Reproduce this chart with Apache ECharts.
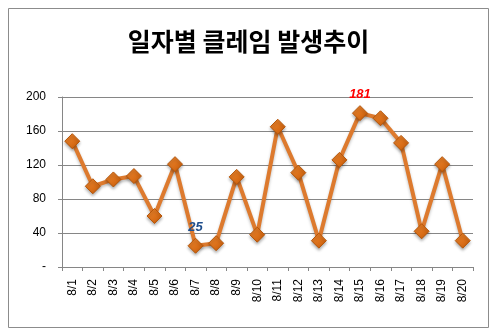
<!DOCTYPE html>
<html>
<head>
<meta charset="utf-8">
<script src="https://cdn.jsdelivr.net/npm/echarts@6/dist/echarts.min.js"></script>
<style>
  html, body { margin: 0; padding: 0; background: #fff; }
  #chart { width: 497px; height: 334px; }
</style>
</head>
<body>
<div id="chart"></div>
<script>
// Daily claim counts, August 1-20
const days = ['8/1','8/2','8/3','8/4','8/5','8/6','8/7','8/8','8/9','8/10',
              '8/11','8/12','8/13','8/14','8/15','8/16','8/17','8/18','8/19','8/20'];
const claims = [148, 95, 103, 107, 60, 121, 25, 28, 106, 38,
                165, 111, 31, 126, 181, 175, 146, 42, 121, 31];
const yTicks = [0, 40, 80, 120, 160, 200];

// highlighted labels: minimum in blue, maximum in red
const minIdx = claims.indexOf(Math.min(...claims));
const maxIdx = claims.indexOf(Math.max(...claims));

const seriesData = claims.map((v, i) => {
  const item = { value: v };
  if (i === minIdx || i === maxIdx) {
    item.label = {
      show: true,
      position: 'top',
      distance: 4,
      fontFamily: 'Liberation Sans, Arial, sans-serif',
      fontSize: 13,
      fontWeight: 'bold',
      fontStyle: 'italic',
      color: i === maxIdx ? '#ff0000' : '#1f4e8c'
    };
  }
  return item;
});

const chart = echarts.init(document.getElementById('chart'));
chart.setOption({
  animation: false,
  backgroundColor: '#ffffff',
  title: {
    text: '일자별 클레임 발생추이',
    left: 'center',
    top: 24,
    textStyle: {
      fontFamily: 'Noto Sans CJK KR, sans-serif',
      fontSize: 25,
      fontWeight: 'bold',
      color: '#000'
    }
  },
  graphic: [{
    type: 'rect',
    shape: { x: 8.5, y: 8.5, width: 480, height: 319 },
    style: { fill: 'none', stroke: '#8c8c8c', lineWidth: 1 },
    silent: true
  }],
  grid: { left: 62, right: 24, top: 97, bottom: 67 },
  xAxis: {
    type: 'category',
    data: days,
    boundaryGap: true,
    axisLine: { lineStyle: { color: '#868686' } },
    axisTick: { show: true, length: 4, alignWithLabel: false, lineStyle: { color: '#868686' } },
    axisLabel: {
      rotate: 90,
      margin: 12,
      interval: 0,
      fontFamily: 'Liberation Sans, Arial, sans-serif',
      fontSize: 12,
      color: '#000'
    }
  },
  yAxis: {
    type: 'value',
    min: yTicks[0],
    max: yTicks[yTicks.length - 1],
    interval: 40,
    axisLine: { show: true, lineStyle: { color: '#868686' } },
    axisTick: { show: true, length: 4, lineStyle: { color: '#868686' } },
    splitLine: { lineStyle: { color: '#868686' } },
    axisLabel: {
      margin: 16,
      fontFamily: 'Liberation Sans, Arial, sans-serif',
      fontSize: 12,
      color: '#000',
      formatter: v => (v === 0 ? '-' : String(v))
    }
  },
  series: [{
    type: 'line',
    data: seriesData,
    symbol: 'diamond',
    symbolSize: 15,
    lineStyle: {
      color: '#dd7a2e',
      width: 4,
      shadowColor: 'rgba(0,0,0,0.25)',
      shadowBlur: 3,
      shadowOffsetY: 2
    },
    itemStyle: {
      color: new echarts.graphic.LinearGradient(0, 0, 1, 1, [
        { offset: 0, color: '#f08a32' },
        { offset: 1, color: '#c85a06' }
      ]),
      borderColor: '#b5560a',
      borderWidth: 1,
      shadowColor: 'rgba(0,0,0,0.3)',
      shadowBlur: 3,
      shadowOffsetY: 2
    },
    z: 3
  }]
});
</script>
</body>
</html>
